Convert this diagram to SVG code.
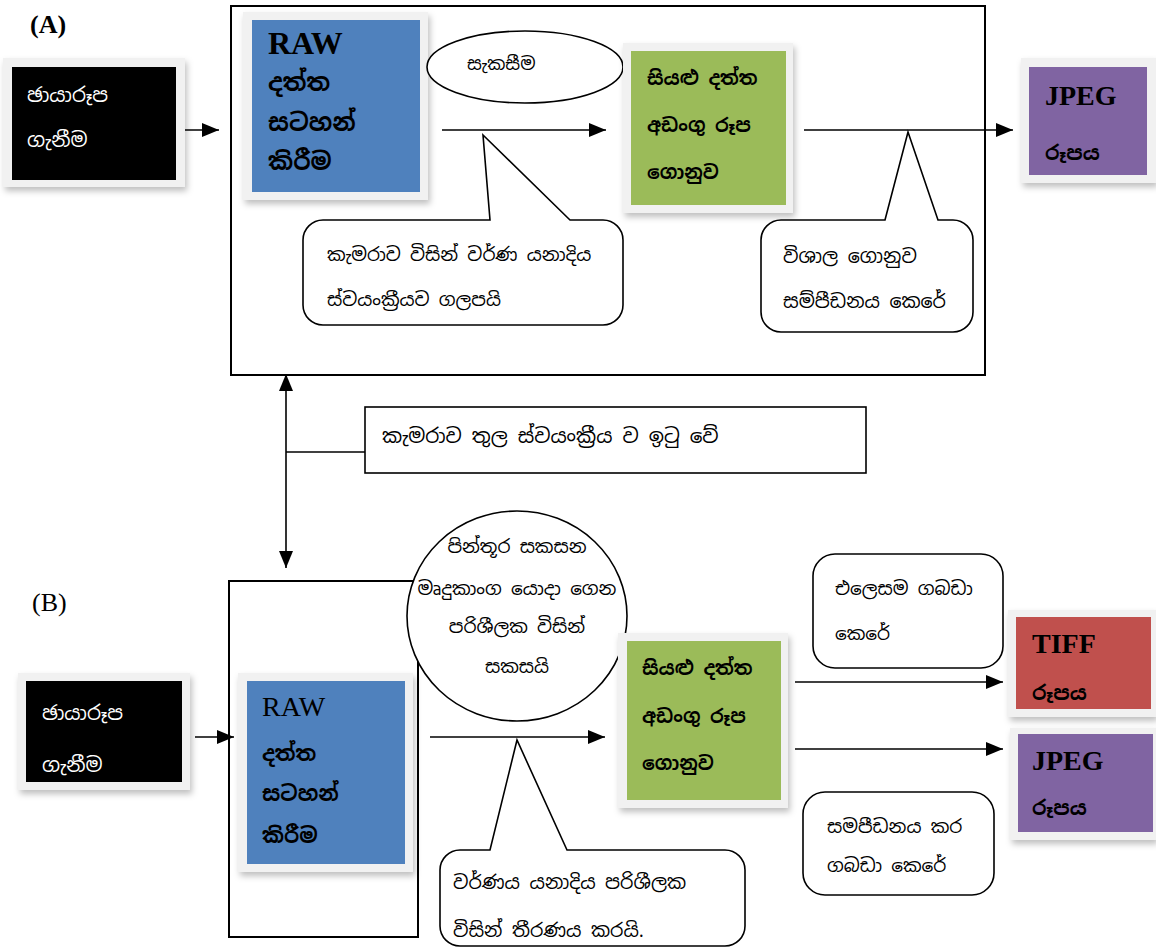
<svg xmlns="http://www.w3.org/2000/svg" width="1156" height="948" viewBox="0 0 1156 948">
<style>
.si{font-family:"Noto Sans Sinhala","Noto Serif Sinhala","Iskoola Pota","Noto Sans",sans-serif;}
.sb{font-family:"Noto Sans Sinhala","Noto Serif Sinhala","Iskoola Pota","Noto Sans",sans-serif;font-weight:bold;}
.lat{font-family:"Liberation Serif","Times New Roman",serif;}
.frame{fill:#f1f1f1;filter:url(#sh);}
.ln{stroke:#000;stroke-width:1.6;fill:none;}
.bx{stroke:#000;stroke-width:2;fill:none;}
.co{stroke:#000;stroke-width:1.6;fill:#fff;}
</style>
<defs>
<filter id="sh" x="-10%" y="-10%" width="125%" height="130%">
<feDropShadow dx="2" dy="4" stdDeviation="3" flood-color="#000" flood-opacity="0.25"/>
</filter>
<marker id="ah" markerUnits="userSpaceOnUse" markerWidth="18" markerHeight="14" refX="17" refY="7" orient="auto-start-reverse">
<path d="M0,0 L17,7 L0,14 Z" fill="#000"/>
</marker>
</defs>
<rect width="1156" height="948" fill="#fff"/>

<text class="lat" x="30" y="33" font-size="26" font-weight="bold">(A)</text>
<text class="lat" x="32" y="611" font-size="26">(B)</text>

<g id="frameA"><rect class="bx" x="231" y="6" width="754" height="369"/></g>
<g id="frameB"><rect class="bx" x="229" y="581" width="189" height="356"/></g>

<g id="connectors">
<line class="ln" x1="184" y1="130" x2="219" y2="130" marker-end="url(#ah)"/>
<line class="ln" x1="442" y1="130" x2="606" y2="130" marker-end="url(#ah)"/>
<line class="ln" x1="804" y1="130" x2="1013" y2="130" marker-end="url(#ah)"/>
<line class="ln" x1="286" y1="374" x2="286" y2="568" marker-start="url(#ah)" marker-end="url(#ah)"/>
<line class="ln" x1="286" y1="452" x2="365" y2="452"/>
<line class="ln" x1="195" y1="737" x2="234" y2="737" marker-end="url(#ah)"/>
<line class="ln" x1="430" y1="737" x2="605" y2="737" marker-end="url(#ah)"/>
<line class="ln" x1="795" y1="682" x2="1003" y2="682" marker-end="url(#ah)"/>
<line class="ln" x1="795" y1="749" x2="1003" y2="749" marker-end="url(#ah)"/>
</g>

<g id="captureA">
<rect class="frame" x="3" y="58" width="182" height="129"/>
<rect x="12" y="67" width="164" height="113" fill="#000"/>
<text class="si" x="27" y="102" font-size="20" fill="#fff">ඡායාරූප</text>
<text class="si" x="27" y="147" font-size="20" fill="#fff">ගැනීම</text>
</g>

<g id="rawA">
<rect class="frame" x="243" y="12" width="185" height="188"/>
<rect x="252" y="20" width="168" height="172" fill="#4f81bd"/>
<text class="lat" x="268" y="54" font-size="32" font-weight="bold">RAW</text>
<text class="sb" x="268" y="91" font-size="24">දත්ත</text>
<text class="sb" x="268" y="131" font-size="24">සටහන්</text>
<text class="sb" x="268" y="170" font-size="24">කිරීම</text>
</g>

<g id="processA">
<ellipse class="co" cx="525" cy="67" rx="98" ry="36"/>
<text class="si" x="467" y="70" font-size="18">සැකසීම</text>
</g>

<g id="allDataA">
<rect class="frame" x="623" y="43" width="170" height="170"/>
<rect x="631" y="51" width="155" height="154" fill="#9bbb59"/>
<text class="sb" x="647" y="85" font-size="19">සියළු දත්ත</text>
<text class="sb" x="647" y="132" font-size="19">අඩංගු රූප</text>
<text class="sb" x="647" y="179" font-size="19">ගොනුව</text>
</g>

<g id="jpegA">
<rect class="frame" x="1021" y="58" width="135" height="125"/>
<rect x="1029" y="67" width="118" height="108" fill="#8064a2"/>
<text class="lat" x="1045" y="105" font-size="28" font-weight="bold">JPEG</text>
<text class="sb" x="1045" y="160" font-size="20">රූපය</text>
</g>

<g id="calloutA1">
<path class="co" d="M323,220 L490,220 L483,135 L570,220 L603,220 A20,20 0 0 1 623,240 L623,305 A20,20 0 0 1 603,325 L323,325 A20,20 0 0 1 303,305 L303,240 A20,20 0 0 1 323,220 Z"/>
<text class="si" x="327" y="261" font-size="18.5">කැමරාව විසින් වර්ණ යනාදිය</text>
<text class="si" x="327" y="306" font-size="18.5">ස්වයංක්‍රීයව ගලපයි</text>
</g>

<g id="calloutA2">
<path class="co" d="M781,220 L885,220 L908,132 L938,220 L953,220 A20,20 0 0 1 973,240 L973,312 A20,20 0 0 1 953,332 L781,332 A20,20 0 0 1 761,312 L761,240 A20,20 0 0 1 781,220 Z"/>
<text class="si" x="783" y="263" font-size="19">විශාල ගොනුව</text>
<text class="si" x="783" y="308" font-size="19">සම්පීඩනය කෙරේ</text>
</g>

<g id="autoNote">
<rect x="365" y="407" width="501" height="66" fill="#fff" stroke="#000" stroke-width="1.6"/>
<text class="si" x="382" y="443" font-size="20">කැමරාව තුල ස්වයංක්‍රීය ව ඉටු වේ</text>
</g>

<g id="captureB">
<rect class="frame" x="18" y="673" width="172" height="117"/>
<rect x="26" y="681" width="156" height="101" fill="#000"/>
<text class="si" x="42" y="720" font-size="20" fill="#fff">ඡායාරූප</text>
<text class="si" x="42" y="772" font-size="20" fill="#fff">ගැනීම</text>
</g>

<g id="rawB">
<rect class="frame" x="238" y="673" width="175" height="199"/>
<rect x="247" y="681" width="158" height="183" fill="#4f81bd"/>
<text class="lat" x="262" y="716" font-size="28">RAW</text>
<text class="sb" x="262" y="761" font-size="21">දත්ත</text>
<text class="sb" x="262" y="801" font-size="21">සටහන්</text>
<text class="sb" x="262" y="843" font-size="21">කිරීම</text>
</g>

<g id="softwareB">
<ellipse class="co" cx="517" cy="616" rx="110" ry="105" stroke-width="2"/>
<text class="si" x="517" y="553" font-size="18.5" text-anchor="middle">පින්තූර සකසන</text>
<text class="si" x="517" y="595" font-size="18.5" text-anchor="middle">මෘදුකාංග යොදා ගෙන</text>
<text class="si" x="517" y="633" font-size="18.5" text-anchor="middle">පරිශීලක විසින්</text>
<text class="si" x="517" y="673" font-size="18.5" text-anchor="middle">සකසයි</text>
</g>

<g id="allDataB">
<rect class="frame" x="618" y="633" width="170" height="175"/>
<rect x="627" y="641" width="154" height="159" fill="#9bbb59"/>
<text class="sb" x="642" y="675" font-size="19">සියළු දත්ත</text>
<text class="sb" x="642" y="723" font-size="19">අඩංගු රූප</text>
<text class="sb" x="642" y="770" font-size="19">ගොනුව</text>
</g>

<g id="calloutB1">
<path class="co" d="M460,850 L490,850 L517,740 L567,850 L725,850 A20,20 0 0 1 745,870 L745,926 A20,20 0 0 1 725,946 L460,946 A20,20 0 0 1 440,926 L440,870 A20,20 0 0 1 460,850 Z"/>
<text class="si" x="453" y="889" font-size="19">වර්ණය යනාදිය පරිශීලක</text>
<text class="si" x="453" y="937" font-size="19">විසින් තීරණය කරයි.</text>
</g>

<g id="calloutB2">
<rect class="co" x="813" y="554" width="190" height="114" rx="22"/>
<text class="si" x="835" y="595" font-size="18.5">එලෙසම ගබඩා</text>
<text class="si" x="835" y="640" font-size="18.5">කෙරේ</text>
</g>

<g id="calloutB3">
<rect class="co" x="803" y="792" width="191" height="103" rx="22"/>
<text class="si" x="827" y="833" font-size="18.5">සමපීඩනය කර</text>
<text class="si" x="827" y="872" font-size="18.5">ගබඩා කෙරේ</text>
</g>

<g id="tiffB">
<rect class="frame" x="1008" y="610" width="148" height="107"/>
<rect x="1016" y="617" width="135" height="92" fill="#c0504d"/>
<text class="lat" x="1032" y="653" font-size="28" font-weight="bold">TIFF</text>
<text class="sb" x="1032" y="700" font-size="20">රූපය</text>
</g>

<g id="jpegB">
<rect class="frame" x="1010" y="728" width="146" height="112"/>
<rect x="1018" y="734" width="135" height="98" fill="#8064a2"/>
<text class="lat" x="1032" y="770" font-size="28" font-weight="bold">JPEG</text>
<text class="sb" x="1032" y="815" font-size="20">රූපය</text>
</g>
</svg>
